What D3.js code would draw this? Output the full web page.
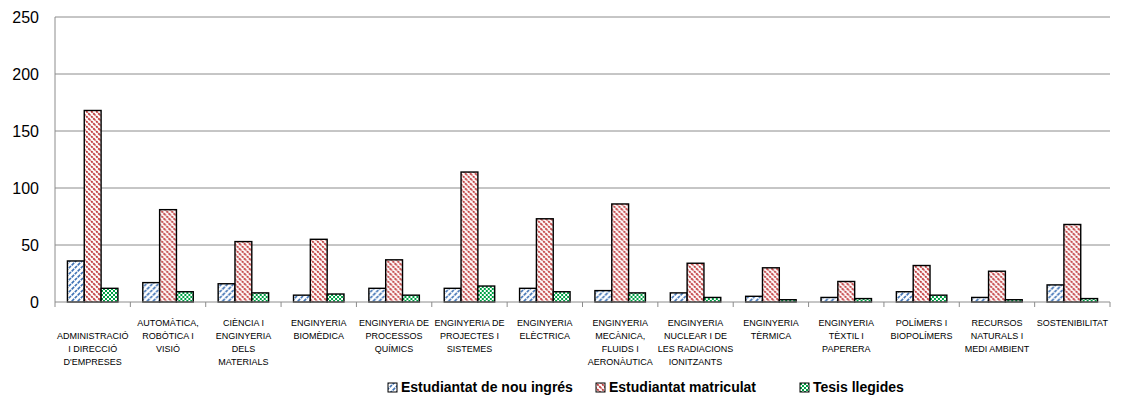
<!DOCTYPE html>
<html>
<head>
<meta charset="utf-8">
<script src="https://cdn.jsdelivr.net/npm/d3@7"></script>
<style>
  body { margin: 0; background: #fff; }
  svg { display: block; font-family: "Liberation Sans", Arial, sans-serif; }
</style>
</head>
<body>
<div id="chart"></div>
<script>
const width = 1126;
const height = 419;

// categories (each label split into its lines)
const categories = [
  ["", "ADMINISTRACIÓ", "I DIRECCIÓ", "D'EMPRESES"],
  ["AUTOMÀTICA,", "ROBÒTICA I", "VISIÓ"],
  ["CIÈNCIA I", "ENGINYERIA", "DELS", "MATERIALS"],
  ["ENGINYERIA", "BIOMÈDICA"],
  ["ENGINYERIA DE", "PROCESSOS", "QUÍMICS"],
  ["ENGINYERIA DE", "PROJECTES I", "SISTEMES"],
  ["ENGINYERIA", "ELÈCTRICA"],
  ["ENGINYERIA", "MECÀNICA,", "FLUIDS I", "AERONÀUTICA"],
  ["ENGINYERIA", "NUCLEAR I DE", "LES RADIACIONS", "IONITZANTS"],
  ["ENGINYERIA", "TÈRMICA"],
  ["ENGINYERIA", "TÈXTIL I", "PAPERERA"],
  ["POLÍMERS I", "BIOPOLÍMERS"],
  ["RECURSOS", "NATURALS I", "MEDI AMBIENT"],
  ["SOSTENIBILITAT"]
];

const seriesNames = ["Estudiantat de nou ingrés", "Estudiantat matriculat", "Tesis llegides"];
const nouIngres  = [36, 17, 16, 6, 12, 12, 12, 10, 8, 5, 4, 9, 4, 15];
const matriculat = [168, 81, 53, 55, 37, 114, 73, 86, 34, 30, 18, 32, 27, 68];
const tesis      = [12, 9, 8, 7, 6, 14, 9, 8, 4, 2, 3, 6, 2, 3];
const yTicks = [0, 50, 100, 150, 200, 250];

const series = [nouIngres, matriculat, tesis];
const patternIds = ["pBlue", "pRed", "pGreen"];

const svg = d3.select("#chart").append("svg")
    .attr("width", width)
    .attr("height", height);

// patterns
const defs = svg.append("defs");
const pb = defs.append("pattern").attr("id", "pBlue")
    .attr("patternUnits", "userSpaceOnUse").attr("width", 6).attr("height", 6);
pb.append("rect").attr("width", 6).attr("height", 6).attr("fill", "#fff");
pb.append("path").attr("d", "M-1,7 L7,-1 M-4,4 L4,-4 M2,10 L10,2")
    .attr("stroke", "#3f72b5").attr("stroke-width", 1.6).attr("stroke-dasharray", "3,1");

const pr = defs.append("pattern").attr("id", "pRed")
    .attr("patternUnits", "userSpaceOnUse").attr("width", 5).attr("height", 5);
pr.append("rect").attr("width", 5).attr("height", 5).attr("fill", "#fff");
pr.append("path").attr("d", "M-1,-1 L6,6 M-3.5,1.5 L1.5,6.5 M1.5,-3.5 L6.5,1.5")
    .attr("stroke", "#c0393a").attr("stroke-width", 1.8).attr("stroke-dasharray", "2.2,0.8");

const pg = defs.append("pattern").attr("id", "pGreen")
    .attr("patternUnits", "userSpaceOnUse").attr("width", 4).attr("height", 4);
pg.append("rect").attr("width", 4).attr("height", 4).attr("fill", "#fff");
pg.append("rect").attr("width", 2).attr("height", 2).attr("fill", "#00a045");
pg.append("rect").attr("x", 2).attr("y", 2).attr("width", 2).attr("height", 2).attr("fill", "#00a045");

// scales
const x0 = d3.scaleBand()
    .domain(d3.range(categories.length))
    .range([55, 1110])
    .padding(0);
const x1 = d3.scaleBand()
    .domain(d3.range(series.length))
    .range([x0.bandwidth() * 0.165, x0.bandwidth() * 0.835]);
const y = d3.scaleLinear()
    .domain([0, 250])
    .range([302, 17]);

// gridlines
svg.append("g")
    .selectAll("line")
    .data(yTicks.slice(1))
    .join("line")
    .attr("x1", 55).attr("x2", 1110)
    .attr("y1", d => y(d)).attr("y2", d => y(d))
    .attr("stroke", "#8c8c8c").attr("stroke-width", 1);

// y axis
svg.append("line")
    .attr("x1", 55).attr("x2", 55)
    .attr("y1", y(250)).attr("y2", y(0))
    .attr("stroke", "#8c8c8c");
svg.append("g")
    .selectAll("text")
    .data(yTicks)
    .join("text")
    .attr("x", 39)
    .attr("y", d => y(d))
    .attr("dy", "0.35em")
    .attr("text-anchor", "end")
    .attr("font-size", 16)
    .attr("fill", "#000")
    .text(d => d);

// bars
const groups = svg.append("g")
    .selectAll("g")
    .data(categories.map((c, i) => i))
    .join("g")
    .attr("transform", i => `translate(${x0(i)},0)`);

groups.selectAll("rect")
    .data(i => series.map((s, k) => ({k: k, v: s[i]})))
    .join("rect")
    .attr("x", d => x1(d.k))
    .attr("y", d => y(d.v))
    .attr("width", x1.bandwidth())
    .attr("height", d => y(0) - y(d.v))
    .attr("fill", d => `url(#${patternIds[d.k]})`)
    .attr("stroke", "#000")
    .attr("stroke-width", 1.4);

// x axis
svg.append("line")
    .attr("x1", 55).attr("x2", 1110)
    .attr("y1", y(0)).attr("y2", y(0))
    .attr("stroke", "#8c8c8c");
svg.append("g")
    .selectAll("line")
    .data(d3.range(categories.length + 1))
    .join("line")
    .attr("x1", i => 55 + i * x0.bandwidth())
    .attr("x2", i => 55 + i * x0.bandwidth())
    .attr("y1", y(0)).attr("y2", y(0) + 5)
    .attr("stroke", "#8c8c8c");

// category labels
const labels = svg.append("g")
    .selectAll("text")
    .data(categories)
    .join("text")
    .attr("text-anchor", "middle")
    .attr("font-size", 9)
    .attr("fill", "#000")
    .attr("transform", (d, i) => `translate(${x0(i) + x0.bandwidth() / 2},326)`);
labels.selectAll("tspan")
    .data(d => d)
    .join("tspan")
    .attr("x", 0)
    .attr("y", (d, j) => j * 13)
    .text(d => d);

// legend
const legendX = [388, 596, 800];
const legend = svg.append("g")
    .selectAll("g")
    .data(seriesNames)
    .join("g")
    .attr("transform", (d, i) => `translate(${legendX[i]},383)`);
legend.append("rect")
    .attr("width", 9).attr("height", 9)
    .attr("fill", (d, i) => `url(#${patternIds[i]})`)
    .attr("stroke", "#000").attr("stroke-width", 1);
legend.append("text")
    .attr("x", 13).attr("y", 4.5).attr("dy", "0.35em")
    .attr("font-size", 14).attr("font-weight", "bold")
    .text(d => d);
</script>
</body>
</html>
